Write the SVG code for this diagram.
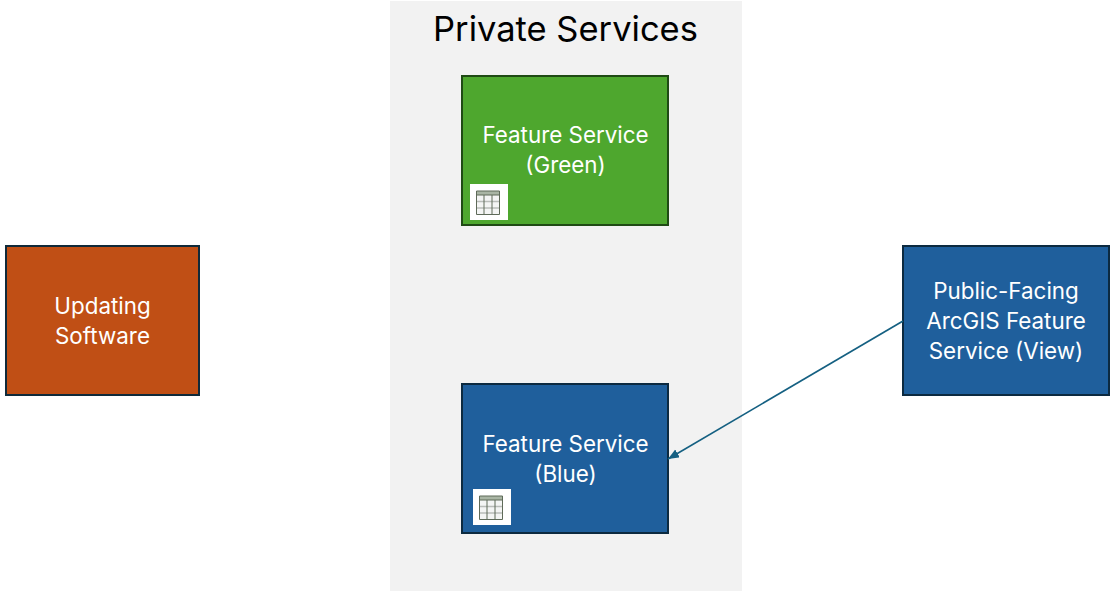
<svg xmlns="http://www.w3.org/2000/svg" width="1116" height="599" viewBox="0 0 1116 599">
<style>
text{font-family:Inter,"Noto Sans","Liberation Sans",sans-serif;text-anchor:middle}
.l{font-size:22.400px;fill:#fff}
.t{font-size:34.500px;fill:#000}
.box{stroke-width:2}
</style>
<defs>
<marker id="a" markerUnits="userSpaceOnUse" markerWidth="12" markerHeight="10" refX="11" refY="4.500" orient="auto"><path d="M0 0L11 4.500L0 9Z" fill="#156082"/></marker>
<g id="tbl">
<rect x="0" y="0" width="38" height="36" fill="#fff"/>
<rect x="6.500" y="7" width="23" height="23.500" fill="#f4f5f4"/>
<rect x="6.500" y="7" width="23" height="4" fill="#a9b5a4"/>
<path d="M6.500 17.500H29.500M6.500 24H29.500" stroke="#b9bdb9" stroke-width="1.500" fill="none"/>
<path d="M6.500 7H29.500V30.500H6.500ZM14 11V30.500M22 11V30.500M6.500 11H29.500" stroke="#5e6a58" stroke-width="1" fill="none"/>
</g>
</defs>
<rect width="1116" height="599" fill="#fff"/>
<g id="private-services">
<rect x="390" y="1" width="352" height="590" fill="#f2f2f2"/>
<text class="t" x="565.500" y="41">Private Services</text>
</g>
<g id="updating-software">
<rect class="box" x="6" y="246" width="193" height="149" fill="#c04f15" stroke="#0f2a3a"/>
<text class="l" x="102.500" y="314">Updating</text>
<text class="l" x="102.500" y="344">Software</text>
</g>
<g id="feature-green">
<rect class="box" x="462" y="76" width="206" height="149" fill="#4ea72e" stroke="#1f4a14"/>
<text class="l" x="565.500" y="143">Feature Service</text>
<text class="l" x="565.500" y="173">(Green)</text>
<use href="#tbl" x="470" y="184"/>
</g>
<g id="feature-blue">
<rect class="box" x="462" y="384" width="206" height="149" fill="#1f5f9c" stroke="#0c2a40"/>
<text class="l" x="565.500" y="452">Feature Service</text>
<text class="l" x="565.500" y="482">(Blue)</text>
<use href="#tbl" x="473" y="489"/>
</g>
<g id="public-view">
<rect class="box" x="903" y="246" width="206" height="149" fill="#1f5f9c" stroke="#0c2a40"/>
<text class="l" x="1006" y="299">Public-Facing</text>
<text class="l" x="1006" y="329">ArcGIS Feature</text>
<text class="l" x="1006" y="359">Service (View)</text>
</g>
<g id="connectors">
<line x1="903" y1="321" x2="668" y2="459" stroke="#156082" stroke-width="1.700" marker-end="url(#a)"/>
</g>
</svg>
